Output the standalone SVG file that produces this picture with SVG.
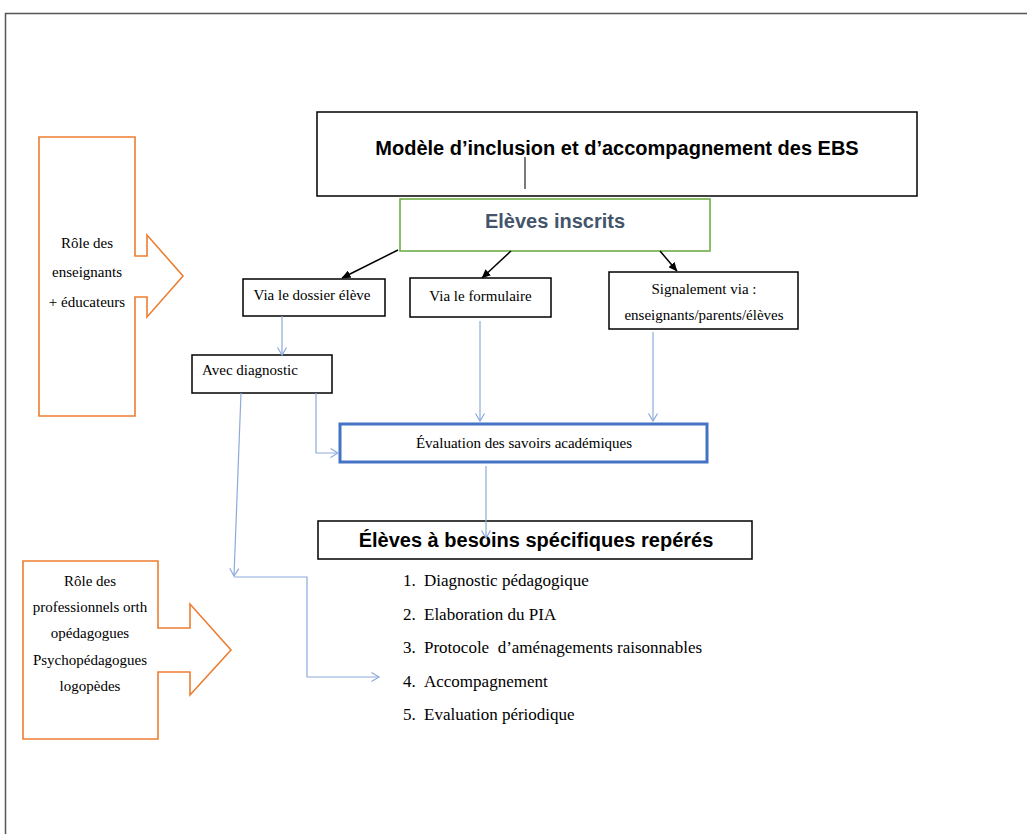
<svg xmlns="http://www.w3.org/2000/svg" width="1027" height="834" viewBox="0 0 1027 834">
<style>
.bx{fill:#fff;stroke:#000;stroke-width:1.5}
.or{fill:#fff;stroke:#ed7d31;stroke-width:1.6}
.ser{font-family:"Liberation Serif","Times New Roman",serif;font-size:15px;fill:#000}
.lst{font-family:"Liberation Serif","Times New Roman",serif;font-size:17px;fill:#000}
.hd{font-family:"Liberation Sans",Arial,sans-serif;font-size:20px;font-weight:bold;fill:#000}
.bl{fill:none;stroke:#8eaadb;stroke-width:1.2}
.bk{fill:none;stroke:#000;stroke-width:1.5}
</style>
<defs>
<marker id="ab" viewBox="0 0 9 8" refX="8.5" refY="4" markerWidth="9" markerHeight="8" orient="auto" markerUnits="userSpaceOnUse"><path d="M0,0 L9,4 L0,8 z" fill="#000"/></marker>
<marker id="ao" viewBox="0 0 8 10" refX="7.5" refY="5" markerWidth="8" markerHeight="10" orient="auto" markerUnits="userSpaceOnUse" overflow="visible"><path d="M0,0.5 L7.5,5 L0,9.5" fill="none" stroke="#8eaadb" stroke-width="1.2"/></marker>
</defs>
<rect width="1027" height="834" fill="#fff"/>
<path d="M5.5,834 V13.5 H1027" fill="none" stroke="#555" stroke-width="1.5"/>

<g id="role-enseignants">
<path class="or" d="M39,137 H135 V256 H147 V235 L183,276 L147,317 V297 H135 V416 H39 Z"/>
<text class="ser" text-anchor="middle" x="87" y="248">Rôle des</text>
<text class="ser" text-anchor="middle" x="87" y="277">enseignants</text>
<text class="ser" text-anchor="middle" x="87" y="307">+ éducateurs</text>
</g>

<g id="role-professionnels">
<path class="or" d="M23,561 H158 V628 H190 V604 L231,650 L190,695 V672 H158 V739 H23 Z"/>
<text class="ser" text-anchor="middle" x="90" y="586">Rôle des</text>
<text class="ser" text-anchor="middle" x="90" y="612">professionnels orth</text>
<text class="ser" text-anchor="middle" x="90" y="638">opédagogues</text>
<text class="ser" text-anchor="middle" x="90" y="665">Psychopédagogues</text>
<text class="ser" text-anchor="middle" x="90" y="691">logopèdes</text>
</g>

<g id="titre">
<rect class="bx" x="317" y="112" width="600" height="84"/>
<text class="hd" text-anchor="middle" x="617" y="155">Modèle d’inclusion et d’accompagnement des EBS</text>
</g>

<g id="eleves-inscrits">
<rect x="400" y="199" width="310" height="52" fill="#fff" stroke="#70ad47" stroke-width="1.6"/>
<text class="hd" text-anchor="middle" x="555" y="228" style="fill:#44546a">Elèves inscrits</text>
</g>

<g id="dossier">
<rect class="bx" x="243" y="279" width="142" height="37"/>
<text class="ser" text-anchor="middle" x="312" y="300">Via le dossier élève</text>
</g>

<g id="formulaire">
<rect class="bx" x="410" y="278" width="141" height="39"/>
<text class="ser" text-anchor="middle" x="480.5" y="301">Via le formulaire</text>
</g>

<g id="signalement">
<rect class="bx" x="609" y="272" width="189" height="57"/>
<text class="ser" text-anchor="middle" x="704" y="294">Signalement via :</text>
<text class="ser" text-anchor="middle" x="704" y="320">enseignants/parents/élèves</text>
</g>

<g id="diagnostic">
<rect class="bx" x="192" y="355" width="140" height="38"/>
<text class="ser" x="202" y="375">Avec diagnostic</text>
</g>

<g id="evaluation">
<rect x="340" y="424" width="367" height="38" fill="#fff" stroke="#4472c4" stroke-width="3"/>
<text class="ser" text-anchor="middle" x="524" y="448">Évaluation des savoirs académiques</text>
</g>

<g id="ebs-reperes">
<rect class="bx" x="318" y="521" width="434" height="38"/>
<text class="hd" text-anchor="middle" x="536" y="547">Élèves à besoins spécifiques repérés</text>
</g>

<g id="liste">
<text class="lst" x="403" y="586">1.</text><text class="lst" x="424" y="586">Diagnostic pédagogique</text>
<text class="lst" x="403" y="620">2.</text><text class="lst" x="424" y="620">Elaboration du PIA</text>
<text class="lst" x="403" y="653">3.</text><text class="lst" x="424" y="653" xml:space="preserve">Protocole  d’aménagements raisonnables</text>
<text class="lst" x="403" y="687">4.</text><text class="lst" x="424" y="687">Accompagnement</text>
<text class="lst" x="403" y="720">5.</text><text class="lst" x="424" y="720">Evaluation périodique</text>
</g>

<g id="connecteurs">
<line x1="525" y1="157" x2="525" y2="189" stroke="#333" stroke-width="1.3"/>
<line class="bk" x1="398" y1="250" x2="342" y2="278" marker-end="url(#ab)"/>
<line class="bk" x1="511" y1="251" x2="482" y2="278" marker-end="url(#ab)"/>
<line class="bk" x1="660" y1="251" x2="677" y2="271" marker-end="url(#ab)"/>
<line class="bl" x1="282" y1="316" x2="282" y2="355" marker-end="url(#ao)"/>
<line class="bl" x1="480" y1="321" x2="480" y2="421" marker-end="url(#ao)"/>
<line class="bl" x1="653" y1="332" x2="653" y2="421" marker-end="url(#ao)"/>
<polyline class="bl" points="316,393 316,453 338,453" marker-end="url(#ao)"/>
<line class="bl" x1="241" y1="393" x2="234" y2="576" marker-end="url(#ao)"/>
<polyline class="bl" points="234,577 307,577 307,677 379,677" marker-end="url(#ao)"/>
<line class="bl" x1="486" y1="466" x2="486" y2="538" marker-end="url(#ao)"/>
</g>
</svg>
